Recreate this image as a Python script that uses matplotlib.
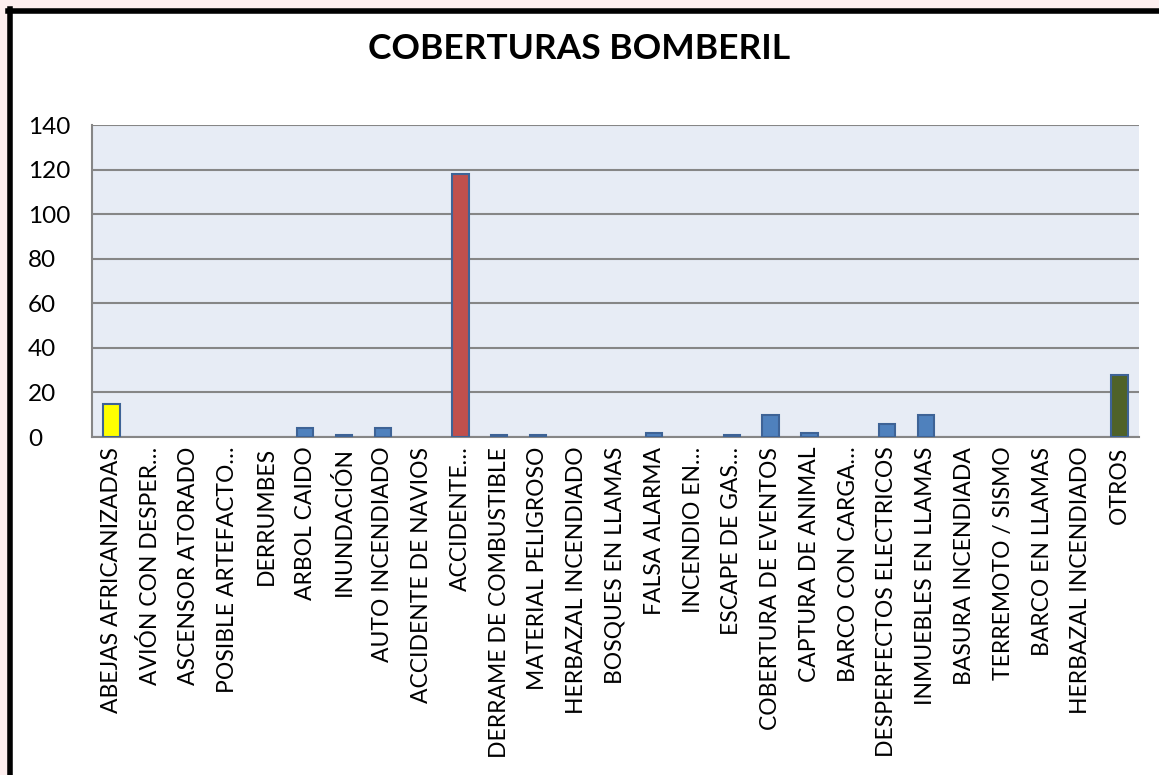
import matplotlib.pyplot as plt
from matplotlib.patches import Rectangle

plt.rcParams['font.family'] = ['Lato', 'DejaVu Sans']

# Datos del gráfico
categorias = [
    "ABEJAS AFRICANIZADAS", "AVIÓN CON DESPER…", "ASCENSOR ATORADO",
    "POSIBLE ARTEFACTO…", "DERRUMBES", "ARBOL CAIDO", "INUNDACIÓN",
    "AUTO INCENDIADO", "ACCIDENTE DE NAVIOS", "ACCIDENTE…",
    "DERRAME DE COMBUSTIBLE", "MATERIAL PELIGROSO", "HERBAZAL INCENDIADO",
    "BOSQUES EN LLAMAS", "FALSA ALARMA", "INCENDIO EN…", "ESCAPE DE GAS…",
    "COBERTURA DE EVENTOS", "CAPTURA DE ANIMAL", "BARCO CON CARGA…",
    "DESPERFECTOS ELECTRICOS", "INMUEBLES EN LLAMAS", "BASURA INCENDIADA",
    "TERREMOTO / SISMO", "BARCO EN LLAMAS", "HERBAZAL INCENDIADO", "OTROS",
]
valores = [15, 0, 0, 0, 0, 4, 1, 4, 0, 118, 1, 1, 0, 0, 2, 0, 1,
           10, 2, 0, 6, 10, 0, 0, 0, 0, 28]
y_ticks = [0, 20, 40, 60, 80, 100, 120, 140]

# colores especiales
colores = ["#4f81bd"] * len(categorias)
colores[0] = "#ffff00"
colores[9] = "#c0504d"
colores[-1] = "#4f6228"
# sin borde en las barras vacías
bordes = ["#3e6396" if v > 0 else "none" for v in valores]

fig = plt.figure(figsize=(11.59, 7.75), dpi=100)
fig.patch.set_facecolor("#fdeeee")

# marco blanco con borde negro
fig.add_artist(Rectangle((10 / 1159, 0), 1.0, 1 - 11 / 775,
                         transform=fig.transFigure, facecolor="white",
                         edgecolor="none", zorder=-5))
fig.add_artist(plt.Line2D([8 / 1159, 1.0], [1 - 11 / 775] * 2,
                          transform=fig.transFigure, color="black", lw=4))
fig.add_artist(plt.Line2D([10 / 1159] * 2, [0, 1 - 9 / 775],
                          transform=fig.transFigure, color="black", lw=4))

ax = fig.add_axes([92 / 1159, 1 - 437 / 775, 1047 / 1159, 312 / 775])
ax.set_facecolor("#e7ecf5")

x = range(len(categorias))
ax.bar(x, valores, width=0.42, color=colores, edgecolor=bordes,
       linewidth=1.5, zorder=3)

ax.set_ylim(0, 140)
ax.set_xlim(-0.5, len(categorias) - 0.5)
ax.set_yticks(y_ticks)
ax.yaxis.grid(True, color="#868686", linewidth=1.5, zorder=1)
ax.set_axisbelow(True)

ax.set_xticks(list(x))
ax.set_xticklabels(categorias, rotation=90, fontsize=16.5)
ax.tick_params(axis="y", labelsize=17.5, length=0, pad=46)
ax.tick_params(axis="x", length=0, pad=7)
for lbl in ax.get_yticklabels():
    lbl.set_horizontalalignment("left")

for s in ["top", "right"]:
    ax.spines[s].set_visible(False)
for s in ["left", "bottom"]:
    ax.spines[s].set_color("#868686")
    ax.spines[s].set_linewidth(1.5)

fig.text(0.5, 1 - 49 / 775, "COBERTURAS BOMBERIL", ha="center", va="center",
         fontsize=25.5, fontweight="bold")

plt.savefig("out.png", dpi=100, facecolor=fig.get_facecolor())
